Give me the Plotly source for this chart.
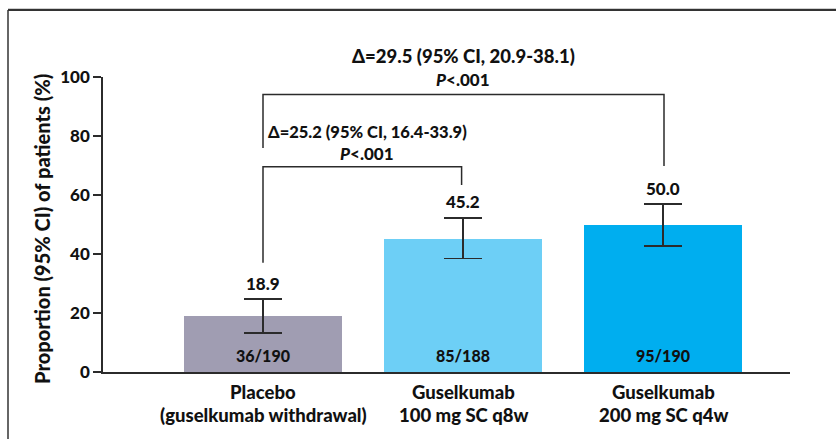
import plotly.graph_objects as go

# Response proportions by treatment arm
arm_names = ["Placebo", "Guselkumab", "Guselkumab"]
arm_details = ["(guselkumab withdrawal)", "100 mg SC q8w", "200 mg SC q4w"]
proportions = [18.9, 45.2, 50.0]
ci_lower = [13.3, 38.5, 42.8]
ci_upper = [24.7, 52.3, 56.9]
responders = ["36/190", "85/188", "95/190"]
bar_colors = ["#A09DB2", "#6DCFF6", "#00AEEF"]

y_ticks = [0, 20, 40, 60, 80, 100]
y_title = "Proportion (95% CI) of patients (%)"

# Pairwise comparisons against placebo
comp_near = ["Δ=25.2 (95% CI, 16.4-33.9)", "<i>P</i><.001"]
comp_far = ["Δ=29.5 (95% CI, 20.9-38.1)", "<i>P</i><.001"]

FONT = "Lato"
WEIGHT = 900
INK = "#111111"
LINE = "#2b2b2b"

# Plot-area geometry (pixels) used to place frame and outside text
ML, MR, MT, MB = 103, 46, 77, 67
W, H = 836, 439
plot_w = W - ML - MR
plot_h = H - MT - MB


def px_x(px):
    return (px - ML) / plot_w


def px_y(py):
    return (H - MB - py) / plot_h


def fnt(size):
    return dict(family=FONT, size=size, color=INK, weight=WEIGHT)


x_pos = list(range(len(proportions)))

fig = go.Figure()
fig.add_trace(go.Bar(
    x=x_pos,
    y=proportions,
    width=0.79,
    marker=dict(color=bar_colors, line=dict(width=0)),
    error_y=dict(
        type="data",
        symmetric=False,
        array=[u - p for u, p in zip(ci_upper, proportions)],
        arrayminus=[p - l for l, p in zip(ci_lower, proportions)],
        color=LINE,
        thickness=1.6,
        width=19,
    ),
    hoverinfo="skip",
))

annotations = []
for i, (p, u, n) in enumerate(zip(proportions, ci_upper, responders)):
    # value above the upper CI cap
    annotations.append(dict(
        x=i, y=u, xref="x", yref="y", text=f"{p:.1f}",
        showarrow=False, yanchor="middle", yshift=16, font=fnt(17),
    ))
    # responders inside the bar
    annotations.append(dict(
        x=i, y=0, xref="x", yref="y", text=n,
        showarrow=False, yanchor="middle", yshift=17, font=fnt(16),
    ))

# Category labels, two lines each
for i, (a, d) in enumerate(zip(arm_names, arm_details)):
    annotations.append(dict(
        x=i, y=0, xref="x", yref="paper", text=a,
        showarrow=False, yanchor="middle", yshift=-20, font=fnt(18.5),
    ))
    annotations.append(dict(
        x=i, y=0, xref="x", yref="paper", text=d,
        showarrow=False, yanchor="middle", yshift=-43, font=fnt(18.5),
    ))

# Comparison texts
annotations += [
    dict(x=0.52, y=px_y(132), xref="x", yref="paper", text=comp_near[0],
         showarrow=False, yanchor="middle", font=fnt(16.5)),
    dict(x=0.52, y=px_y(153), xref="x", yref="paper", text=comp_near[1],
         showarrow=False, yanchor="middle", font=fnt(17)),
    dict(x=1.0, y=px_y(56), xref="x", yref="paper", text=comp_far[0],
         showarrow=False, yanchor="middle", font=fnt(18.5)),
    dict(x=1.0, y=px_y(79), xref="x", yref="paper", text=comp_far[1],
         showarrow=False, yanchor="middle", font=fnt(17)),
]

# Y-axis title
annotations.append(dict(
    x=px_x(42), y=px_y(229), xref="paper", yref="paper", text=y_title,
    textangle=-90, showarrow=False, xanchor="center", yanchor="middle",
    font=fnt(20),
))

shapes = []
# Placebo vs 100 mg bracket
shapes.append(dict(type="path", xref="x", yref="y",
                   path="M 0,37.05 L 0,69.6 L 0.993,69.6 L 0.993,63.4",
                   line=dict(color=LINE, width=1.5)))
# Placebo vs 200 mg bracket
shapes.append(dict(type="path", xref="x", yref="y",
                   path="M 0,75.9 L 0,94.1 L 2.005,94.1 L 2.005,69.8",
                   line=dict(color=LINE, width=1.5)))

# Outer frame (top and left edges)
shapes.append(dict(type="line", xref="paper", yref="paper",
                   x0=px_x(8), x1=px_x(840), y0=px_y(10), y1=px_y(10),
                   line=dict(color="#333333", width=2)))
shapes.append(dict(type="line", xref="paper", yref="paper",
                   x0=px_x(8), x1=px_x(840), y0=px_y(8.5), y1=px_y(8.5),
                   line=dict(color="#cfcfcf", width=1)))
shapes.append(dict(type="line", xref="paper", yref="paper",
                   x0=px_x(8), x1=px_x(8), y0=px_y(10), y1=px_y(445),
                   line=dict(color="#333333", width=1.5)))

fig.update_layout(
    width=W, height=H,
    margin=dict(l=ML, r=MR, t=MT, b=MB),
    paper_bgcolor="white", plot_bgcolor="white",
    showlegend=False,
    bargap=0,
    font=dict(family=FONT, color=INK),
    xaxis=dict(
        range=[-0.8, 2.635], showticklabels=False, ticks="",
        showgrid=False, zeroline=False,
        showline=True, linecolor=LINE, linewidth=1.6,
    ),
    yaxis=dict(
        range=[0, 100], tickvals=y_ticks,
        ticks="outside", ticklen=8, tickwidth=1.5, tickcolor=LINE,
        showgrid=False, zeroline=False,
        showline=True, linecolor=LINE, linewidth=1.6,
        tickfont=fnt(17),
    ),
    annotations=annotations,
    shapes=shapes,
)

fig.write_html("out.html")
